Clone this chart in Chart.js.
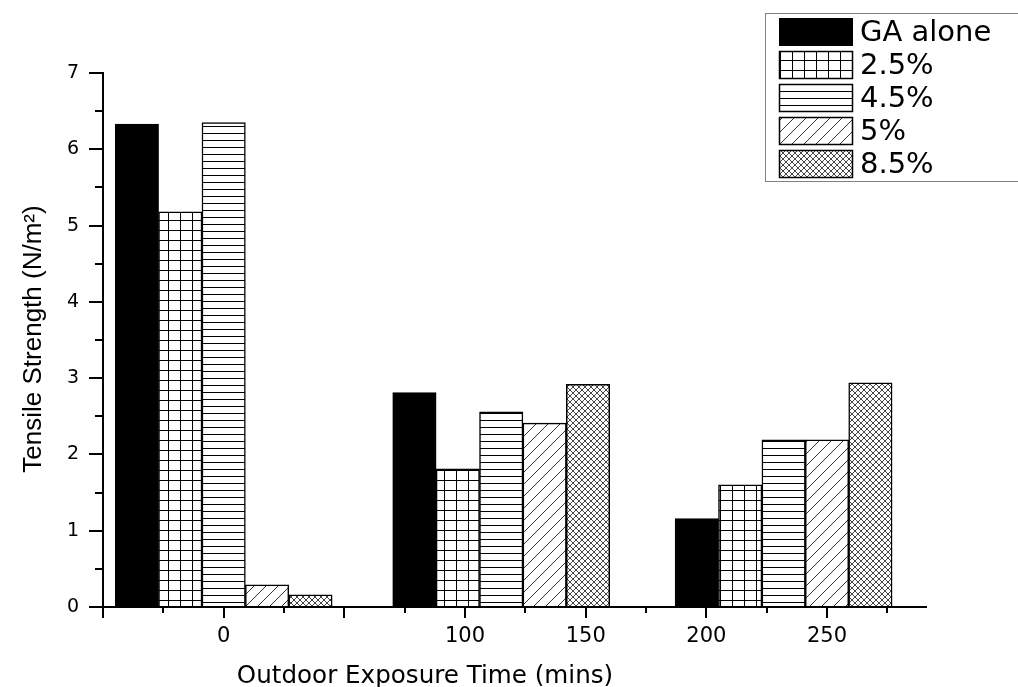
<!DOCTYPE html>
<html>
<head>
<meta charset="utf-8">
<script src="https://cdn.jsdelivr.net/npm/chart.js@4.4.0/dist/chart.umd.min.js"></script>
<style>
  html, body { margin: 0; padding: 0; background: #fff; }
  #wrap { width: 1018px; height: 687px; position: relative; }
</style>
</head>
<body>
<div id="wrap"><canvas id="strengthChart"></canvas></div>
<script>
// values
const seriesNames = ['GA alone', '2.5%', '4.5%', '5%', '8.5%'];
const exposureX = [0, 115, 232];          // group centres on the time axis
const gaAlone = [6.33, 2.81, 1.16];
const ga25 = [5.18, 1.81, 1.60];
const ga45 = [6.35, 2.56, 2.19];
const ga5 = [0.29, 2.41, 2.19];
const ga85 = [0.16, 2.92, 2.94];
const xTickValues = [-50, 0, 50, 100, 150, 200, 250];
const xTickLabels = ['', '0', '', '100', '150', '200', '250'];

const canvas = document.getElementById('strengthChart');
const ctx = canvas.getContext('2d');

// hatch fills like the Origin plot
function makePattern(w, h, draw) {
    const c = document.createElement('canvas');
    c.width = w;
    c.height = h;
    const g = c.getContext('2d');
    g.fillStyle = '#fff';
    g.fillRect(0, 0, w, h);
    g.strokeStyle = '#000';
    g.lineWidth = 1;
    g.beginPath();
    draw(g, w, h);
    g.stroke();
    return ctx.createPattern(c, 'repeat');
}

const gridFill = makePattern(12, 10, (g, w, h) => {
    g.moveTo(0.5, 0); g.lineTo(0.5, h);
    g.moveTo(0, 0.5); g.lineTo(w, 0.5);
});
const hLineFill = makePattern(4, 7, (g, w) => {
    g.moveTo(0, 0.5); g.lineTo(w, 0.5);
});
const diagFill = makePattern(12, 12, (g, w, h) => {
    g.strokeStyle = '#333';
    g.moveTo(0, h); g.lineTo(w, 0);
    g.moveTo(-2, 2); g.lineTo(2, -2);
    g.moveTo(w - 2, h + 2); g.lineTo(w + 2, h - 2);
});
const crossFill = makePattern(6, 6, (g, w, h) => {
    g.strokeStyle = '#444';
    g.moveTo(0, 0); g.lineTo(w, h);
    g.moveTo(0, h); g.lineTo(w, 0);
});

const seriesValues = [gaAlone, ga25, ga45, ga5, ga85];
const fills = ['#000', gridFill, hLineFill, diagFill, crossFill];

Chart.defaults.font.family = "'DejaVu Sans'";
Chart.defaults.color = '#000';

const decor = {
    id: 'decor',
    afterDraw(chart) {
        const { ctx, chartArea, scales } = chart;
        const xs = scales.x, ys = scales.y;
        ctx.save();
        ctx.strokeStyle = '#000';
        ctx.lineWidth = 2;
        ctx.beginPath();
        // minor ticks
        const xStep = xs.ticks[1].value - xs.ticks[0].value;
        for (let v = xs.ticks[0].value + xStep / 2; v < xs.max; v += xStep) {
            const px = Math.round(xs.getPixelForValue(v));
            ctx.moveTo(px, chartArea.bottom);
            ctx.lineTo(px, chartArea.bottom + 6);
        }
        for (let v = 0.5; v < ys.max; v += 1) {
            const py = Math.round(ys.getPixelForValue(v));
            ctx.moveTo(chartArea.left - 8, py);
            ctx.lineTo(chartArea.left, py);
        }
        ctx.stroke();

        // axis titles
        ctx.fillStyle = '#000';
        ctx.textAlign = 'center';
        ctx.textBaseline = 'alphabetic';
        ctx.font = "24.6px 'DejaVu Sans'";
        ctx.fillText('Outdoor Exposure Time (mins)', 425, 683);
        ctx.save();
        ctx.translate(41, 339);
        ctx.rotate(-Math.PI / 2);
        ctx.font = "26px 'Liberation Sans'";
        ctx.fillText('Tensile Strength (N/m\u00B2)', 0, 0);
        ctx.restore();

        // legend box
        ctx.strokeStyle = '#808080';
        ctx.lineWidth = 1;
        ctx.strokeRect(765.5, 13.5, 300, 168);
        ctx.font = "29px 'DejaVu Sans'";
        ctx.textAlign = 'left';
        ctx.textBaseline = 'middle';
        chart.data.datasets.forEach((ds, i) => {
            const top = 18 + 33 * i;
            ctx.fillStyle = ds.backgroundColor;
            ctx.fillRect(779, top, 74, 28);
            if (i > 0) {
                ctx.strokeStyle = '#000';
                ctx.lineWidth = 1.5;
                ctx.strokeRect(779.5, top + 0.5, 73, 27);
            }
            ctx.fillStyle = '#000';
            ctx.fillText(ds.label, 860, top + 15);
        });
        ctx.restore();
    }
};

new Chart(ctx, {
    type: 'bar',
    data: {
        datasets: seriesNames.map((name, i) => ({
            label: name,
            data: exposureX.map((x, j) => ({ x: x, y: seriesValues[i][j] })),
            backgroundColor: fills[i],
            borderColor: '#000',
            borderWidth: 1.5,
            barThickness: 43.4
        }))
    },
    options: {
        responsive: true,
        maintainAspectRatio: false,
        animation: false,
        layout: { padding: { top: 73, right: 92, left: 0, bottom: 0 } },
        plugins: {
            legend: { display: false },
            tooltip: { enabled: false }
        },
        scales: {
            x: {
                type: 'linear',
                min: -50,
                max: 291,
                offset: false,
                afterBuildTicks: (s) => { s.ticks = xTickValues.map(v => ({ value: v })); },
                afterFit: (s) => { s.height = 80; },
                grid: { offset: false, drawOnChartArea: false, drawTicks: true, tickLength: 11, color: '#000', lineWidth: 2 },
                border: { display: true, color: '#000', width: 2 },
                ticks: {
                    autoSkip: false,
                    maxRotation: 0,
                    padding: 6,
                    font: { size: 21 },
                    callback: (v, i) => xTickLabels[i]
                }
            },
            y: {
                min: 0,
                max: 7,
                afterFit: (s) => { s.width = 103; },
                grid: { drawOnChartArea: false, drawTicks: true, tickLength: 14, color: '#000', lineWidth: 2 },
                border: { display: true, color: '#000', width: 2 },
                ticks: { stepSize: 1, padding: 10, font: { size: 19 } }
            }
        }
    },
    plugins: [decor]
});
</script>
</body>
</html>
